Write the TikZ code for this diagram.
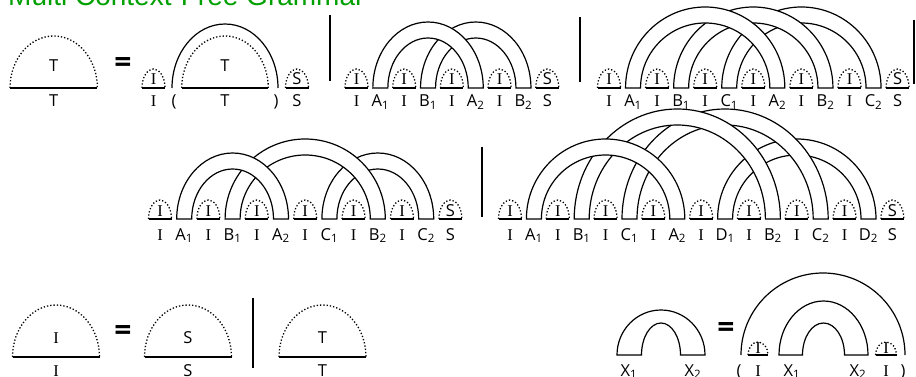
\documentclass[tikz,border=0pt]{standalone}
\usepackage{fontspec}
\setmainfont{Open Sans}
\newfontfamily\titlefont{Liberation Sans}
\newfontfamily\serifI{Liberation Serif}
\usepackage{tikz}
\definecolor{titlegreen}{RGB}{0,160,0}
\newcommand{\lo}[1]{\textsubscript{#1}}
\newcommand{\capI}{{\serifI I}}
% dotted dome: centre x, base y, half width, height
\newcommand{\dome}[4]{%
  \draw[dots] (#1-#3,-#2) arc[start angle=180,end angle=0,x radius=#3,y radius=#4];
  \draw[rim] (#1-#3,-#2) -- (#1+#3,-#2);}
% band: centre x, outer hw, inner hw, base y, outer h, inner h
\newcommand{\band}[6]{%
  \filldraw[rim,fill=white] (#1-#2,-#4) arc[start angle=180,end angle=0,x radius=#2,y radius=#5]
    -- (#1+#3,-#4) arc[start angle=0,end angle=180,x radius=#3,y radius=#6] -- cycle;}
% band between slots k1 and k2 of a row: start, step, k1, k2, base y, outer h
\newcommand{\rowband}[6]{%
  \pgfmathsetmacro\bx{#1+#2*(#3+#4)/2}%
  \pgfmathsetmacro\bo{#2*(#4-#3)/2+7.5}%
  \pgfmathsetmacro\bi{#2*(#4-#3)/2-7.5}%
  \pgfmathsetmacro\bh{#6-16}%
  \band{\bx}{\bo}{\bi}{#5}{#6}{\bh}}
% labels and small domes of a row: start, step, base y, label y, prefix, list
\newcommand{\rowseq}[6]{%
  \foreach \lab [count=\k from 0] in {#6}{%
    \pgfmathsetmacro\sx{#1+#2*\k}
    \node[lab] (#5\k) at (\sx,-#4) {\lab};
    \ifodd\k\else
      \dome{\sx}{#3}{11.5}{19}
      \node[lab] (#5in\k) at (\sx,-#3+3) {\lab};
    \fi}}

\begin{document}
\begin{tikzpicture}[
  x=1pt,y=1pt,
  rim/.style={line width=1.2pt,black},
  dots/.style={line width=1.3pt,dotted,black},
  bar/.style={line width=2pt,black},
  lab/.style={anchor=base,inner sep=0pt,font=\fontsize{16.5}{17}\selectfont},
  eq/.style={inner sep=0pt,font=\fontsize{30}{30}\selectfont\bfseries},
  title/.style={anchor=base west,inner sep=0pt,text=titlegreen,
                font=\titlefont\fontsize{28}{28}\selectfont},
]
\useasboundingbox (0,0) rectangle (916,-377);
\clip (0,0) rectangle (916,-377);

\node[title] (ttl) at (8,-6) {Multi Context-Free Grammar};

% T = I ( T ) S
\dome{53.7}{88}{43.7}{52}
\node[lab] (tin) at (53.7,-72) {T};
\node[lab] (tout) at (53.7,-107) {T};
\node[eq] (eq1) at (123,-65) {=};
\dome{153.5}{88}{11.5}{19}
\node[lab] (i0in) at (153.5,-85) {\capI};
\node[lab] (i0) at (153.5,-107) {\capI};
\draw[rim] (172,-88) arc[start angle=180,end angle=0,x radius=53,y radius=64];
\dome{225}{88}{43.3}{52}
\node[lab] (t1in) at (225,-72) {T};
\node[lab] (t1) at (225,-107) {T};
\node[lab] (lp1) at (174,-107) {(};
\node[lab] (rp1) at (276,-107) {)};
\dome{297}{88}{11.5}{19}
\node[lab] (s0in) at (297,-85) {S};
\node[lab] (s0) at (297,-107) {S};
\draw[bar] (330,-15) -- (330,-81);

% two crossing bands
\rowband{356.5}{23.85}{3}{7}{88}{66}
\rowband{356.5}{23.85}{1}{5}{88}{66}
\rowseq{356.5}{23.85}{88}{107}{p}{\capI,A\lo1,\capI,B\lo1,\capI,A\lo2,\capI,B\lo2,S}
\draw[bar] (580,-17) -- (580,-82);

% three crossing bands
\rowband{609}{24.05}{5}{11}{88}{81}
\rowband{609}{24.05}{3}{9}{88}{81}
\rowband{609}{24.05}{1}{7}{88}{81}
\rowseq{609}{24.05}{88}{107}{q}{\capI,A\lo1,\capI,B\lo1,\capI,C\lo1,\capI,A\lo2,\capI,B\lo2,\capI,C\lo2,S}
\draw[bar] (913.5,-20) -- (913.5,-84);

% second line
\rowband{160}{24.2}{7}{11}{219}{66}
\rowband{160}{24.2}{3}{9}{219}{80}
\rowband{160}{24.2}{1}{5}{219}{66}
\rowseq{160}{24.2}{219}{240}{u}{\capI,A\lo1,\capI,B\lo1,\capI,A\lo2,\capI,C\lo1,\capI,B\lo2,\capI,C\lo2,S}
\draw[bar] (482,-147) -- (482,-217);

\rowband{510}{23.9}{9}{15}{219}{80}
\rowband{510}{23.9}{5}{13}{219}{110}
\rowband{510}{23.9}{3}{11}{219}{110}
\rowband{510}{23.9}{1}{7}{219}{80}
\rowseq{510}{23.9}{219}{240}{v}{\capI,A\lo1,\capI,B\lo1,\capI,C\lo1,\capI,A\lo2,\capI,D\lo1,\capI,B\lo2,\capI,C\lo2,\capI,D\lo2,S}

% I = S | T
\dome{56}{357}{43.5}{52}
\node[lab] (iin) at (56,-343) {\capI};
\node[lab] (iout) at (56,-376) {\capI};
\node[eq] (eq2) at (123,-333) {=};
\dome{188}{357}{43.5}{52}
\node[lab] (sin) at (188,-343) {S};
\node[lab] (sout) at (188,-376) {S};
\draw[bar] (253,-298) -- (253,-368);
\dome{322.5}{357}{43.5}{52}
\node[lab] (tbin) at (322.5,-343) {T};
\node[lab] (tbout) at (322.5,-376) {T};

% X = ( I X I )
\band{661}{44}{19.5}{355}{45}{32}
\node[lab] (x1) at (629,-376) {X\lo1};
\node[lab] (x2) at (693,-376) {X\lo2};
\node[eq] (eq3) at (726,-330) {=};
\draw[rim] (741,-355) arc[start angle=180,end angle=0,x radius=82,y radius=82];
\dome{758}{355}{10}{13}
\node[lab] (xiin) at (758,-353) {\capI};
\band{823.5}{44.5}{21}{355}{54}{32}
\dome{886}{355}{10.5}{13}
\node[lab] (xjin) at (886,-353) {\capI};
\node[lab] (lp2) at (739,-376) {(};
\node[lab] (xi) at (758,-376) {\capI};
\node[lab] (x3) at (792,-376) {X\lo1};
\node[lab] (x4) at (858,-376) {X\lo2};
\node[lab] (xj) at (886,-376) {\capI};
\node[lab] (rp2) at (903,-376) {)};
\end{tikzpicture}
\end{document}
